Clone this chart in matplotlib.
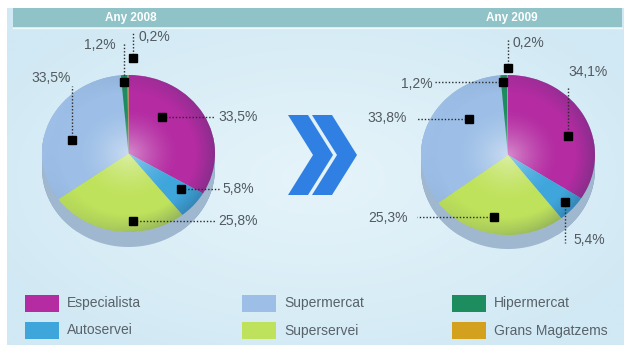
import numpy as np
import matplotlib
matplotlib.use("Agg")
import matplotlib.pyplot as plt
from matplotlib.patches import Rectangle, Polygon, Circle

# ---------------- data ----------------
categories = ["Especialista", "Autoservei", "Superservei", "Supermercat",
              "Hipermercat", "Grans Magatzems"]
values_2008 = [33.5, 5.8, 25.8, 33.5, 1.2, 0.2]
values_2009 = [34.1, 5.4, 25.3, 33.8, 1.2, 0.2]
years = ["Any 2008", "Any 2009"]
colors = ["#b42ba2", "#3fa6dc", "#bfe25c", "#9dbfe7", "#1d8c5e", "#d4a11e"]
legend_order = ["Especialista", "Autoservei", "Supermercat", "Superservei",
                "Hipermercat", "Grans Magatzems"]


def pct(v):
    return f"{v:.1f}".replace(".", ",") + "%"


W, H = 630, 347
fig = plt.figure(figsize=(6.3, 3.47), dpi=100)
fig.patch.set_facecolor("white")

bg = fig.add_axes([0, 0, 1, 1], zorder=0)
bg.axis("off")

# background gradient
yy, xx = np.mgrid[0:120, 0:220]
d = np.sqrt(((xx - 110) / 110.0) ** 2 + ((yy - 60) / 60.0) ** 2)
d = np.clip(d, 0, 1.2) / 1.2
c0 = np.array([0xe6, 0xf4, 0xfa]) / 255.0
c1 = np.array([0xd1, 0xe9, 0xf4]) / 255.0
img = c0[None, None, :] * (1 - d[..., None]) + c1[None, None, :] * d[..., None]
bg.imshow(img, extent=(7, 624, 345, 8), aspect="auto", interpolation="bilinear")
bg.set_xlim(0, W)
bg.set_ylim(H, 0)

# header bar
bg.add_patch(Rectangle((13, 8), 609, 19, color="#8fc3c7", lw=0))
bg.plot([13, 622], [27.5, 27.5], color="#eef8fa", lw=1)
for txt, x in zip(years, [131, 512]):
    bg.text(x, 17.5, txt, ha="center", va="center", color="white",
            fontsize=8.5, fontweight="bold", family="Liberation Sans")

# chevrons
for off in (0, 24):
    pts = [(288 + off, 115), (308 + off, 115), (333 + off, 155),
           (308 + off, 195), (288 + off, 195), (313 + off, 155)]
    bg.add_patch(Polygon(pts, closed=True, facecolor="#2f80e2", edgecolor="none"))

# legend
col_x = [25, 242, 452]
row_y = [303.5, 330.5]
for i, name in enumerate(legend_order):
    c = colors[categories.index(name)]
    x = col_x[i // 2]
    y = row_y[i % 2]
    bg.add_patch(Rectangle((x, y - 8.5), 34, 17, facecolor=c, edgecolor="none"))
    bg.text(x + 42, y, name, ha="left", va="center", fontsize=10,
            color="#59626a", family="Liberation Sans")


def draw_pie(cx, cy, rx, ry, depth, values, layout):
    ax = fig.add_axes([(cx - rx) / W, (H - (cy + ry)) / H, 2 * rx / W, 2 * ry / H],
                      zorder=2)
    ax.axis("off")
    dd = depth / ry
    # side (3D depth)
    t1 = np.linspace(np.pi, 2 * np.pi, 100)
    t2 = np.linspace(0, np.pi, 100)
    side_pts = ([(-1, 0)] + [(np.cos(t), -dd + np.sin(t)) for t in t1] + [(1, 0)]
                + [(np.cos(t), np.sin(t)) for t in t2])
    side = Polygon(side_pts, closed=True, facecolor="#9fb7cf", edgecolor="none",
                   clip_on=False)
    ax.add_patch(side)
    gx = np.linspace(-1, 1, 200)
    shade = np.interp(gx, [-1, -0.3, 0.5, 1], [0.55, 0.0, 0.35, 0.85])
    cl = np.array([0xb8, 0xcc, 0xe0]) / 255.0
    cd = np.array([0x62, 0x7d, 0x99]) / 255.0
    simg = cl[None, :] * (1 - shade[:, None]) + cd[None, :] * shade[:, None]
    simg = np.repeat(simg[None, :, :], 10, axis=0)
    im = ax.imshow(simg, extent=(-1, 1, -1 - dd, 0.2), aspect="auto",
                   interpolation="bilinear", clip_on=True)
    im.set_clip_path(side)

    wedges, _ = ax.pie(values, colors=colors, startangle=90, counterclock=False,
                       radius=1, center=(0, 0), wedgeprops=dict(linewidth=0))
    ax.set_aspect("auto")
    ax.set_xlim(-1, 1)
    ax.set_ylim(-1, 1)

    # highlight and rim shading on face
    n = 200
    u, v = np.meshgrid(np.linspace(-1, 1, n), np.linspace(1, -1, n))
    r = np.sqrt(u ** 2 + v ** 2)
    hl = np.zeros((n, n, 4))
    hl[..., :3] = 1.0
    hl[..., 3] = 0.45 * np.clip(1 - r / 0.6, 0, 1) ** 1.5
    clip = Circle((0, 0), 1, transform=ax.transData)
    h1 = ax.imshow(hl, extent=(-1, 1, -1, 1), aspect="auto", zorder=3,
                   interpolation="bilinear")
    h1.set_clip_path(clip)
    dk = np.zeros((n, n, 4))
    dk[..., :3] = np.array([0x1d, 0x35, 0x55]) / 255.0
    dk[..., 3] = 0.28 * np.clip((r - 0.78) / 0.22, 0, 1) * np.clip((1 + u - v * 0.3) / 2, 0, 1)
    h2 = ax.imshow(dk, extent=(-1, 1, -1, 1), aspect="auto", zorder=3,
                   interpolation="bilinear")
    h2.set_clip_path(Circle((0, 0), 1, transform=ax.transData))
    ax.set_xlim(-1, 1)
    ax.set_ylim(-1, 1)

    # markers, leader lines, labels
    for w, val, lay in zip(wedges, values, layout):
        f, rr, ldx, ldy, tdx, tdy, ha = lay
        ps = 90 - w.theta2
        pe = 90 - w.theta1
        phi = np.radians(ps + f * (pe - ps))
        mu, mv = rr * np.sin(phi), rr * np.cos(phi)
        ax.plot([mu, mu + ldx / rx], [mv, mv - ldy / ry], linestyle=(0, (1, 1.4)),
                color="#2a2a2a", lw=1.0, clip_on=False, zorder=5)
        ax.plot(mu, mv, "s", ms=5.5, color="black", clip_on=False, zorder=6)
        ax.text(mu + tdx / rx, mv - tdy / ry, pct(val), ha=ha, va="center",
                fontsize=10, color="#525a61", family="Liberation Sans",
                clip_on=False, zorder=6)
    return ax


layout_2008 = [
    (0.33, 0.605, 53, 0, 56, 0, "left"),
    (0.29, 0.757, 39, 0, 41, 0, "left"),
    (0.377, 0.862, 82, 0, 85, 0, "left"),
    (0.418, 0.675, 0, -54, -1, -62, "right"),
    (0.4, 0.912, 0, -40, -8, -37, "right"),
    (4.3, 1.22, 0, -25, 6, -21, "left"),
]
layout_2009 = [
    (0.578, 0.73, 0, -49, 0, -64, "left"),
    (0.47, 0.88, 0, 41, 8, 38, "left"),
    (0.543, 0.79, -77, 0, -86, 1, "right"),
    (0.672, 0.635, -52, 0, -62, -1, "right"),
    (0.33, 0.914, -68, 0, -70, 2, "right"),
    (0.9, 1.09, 0, -30, 5, -25, "left"),
]

draw_pie(128.5, 153.5, 86.5, 78.5, 15, values_2008, layout_2008)
draw_pie(508, 155, 87, 80, 14, values_2009, layout_2009)

fig.savefig("out.png", dpi=100, facecolor=fig.get_facecolor())
